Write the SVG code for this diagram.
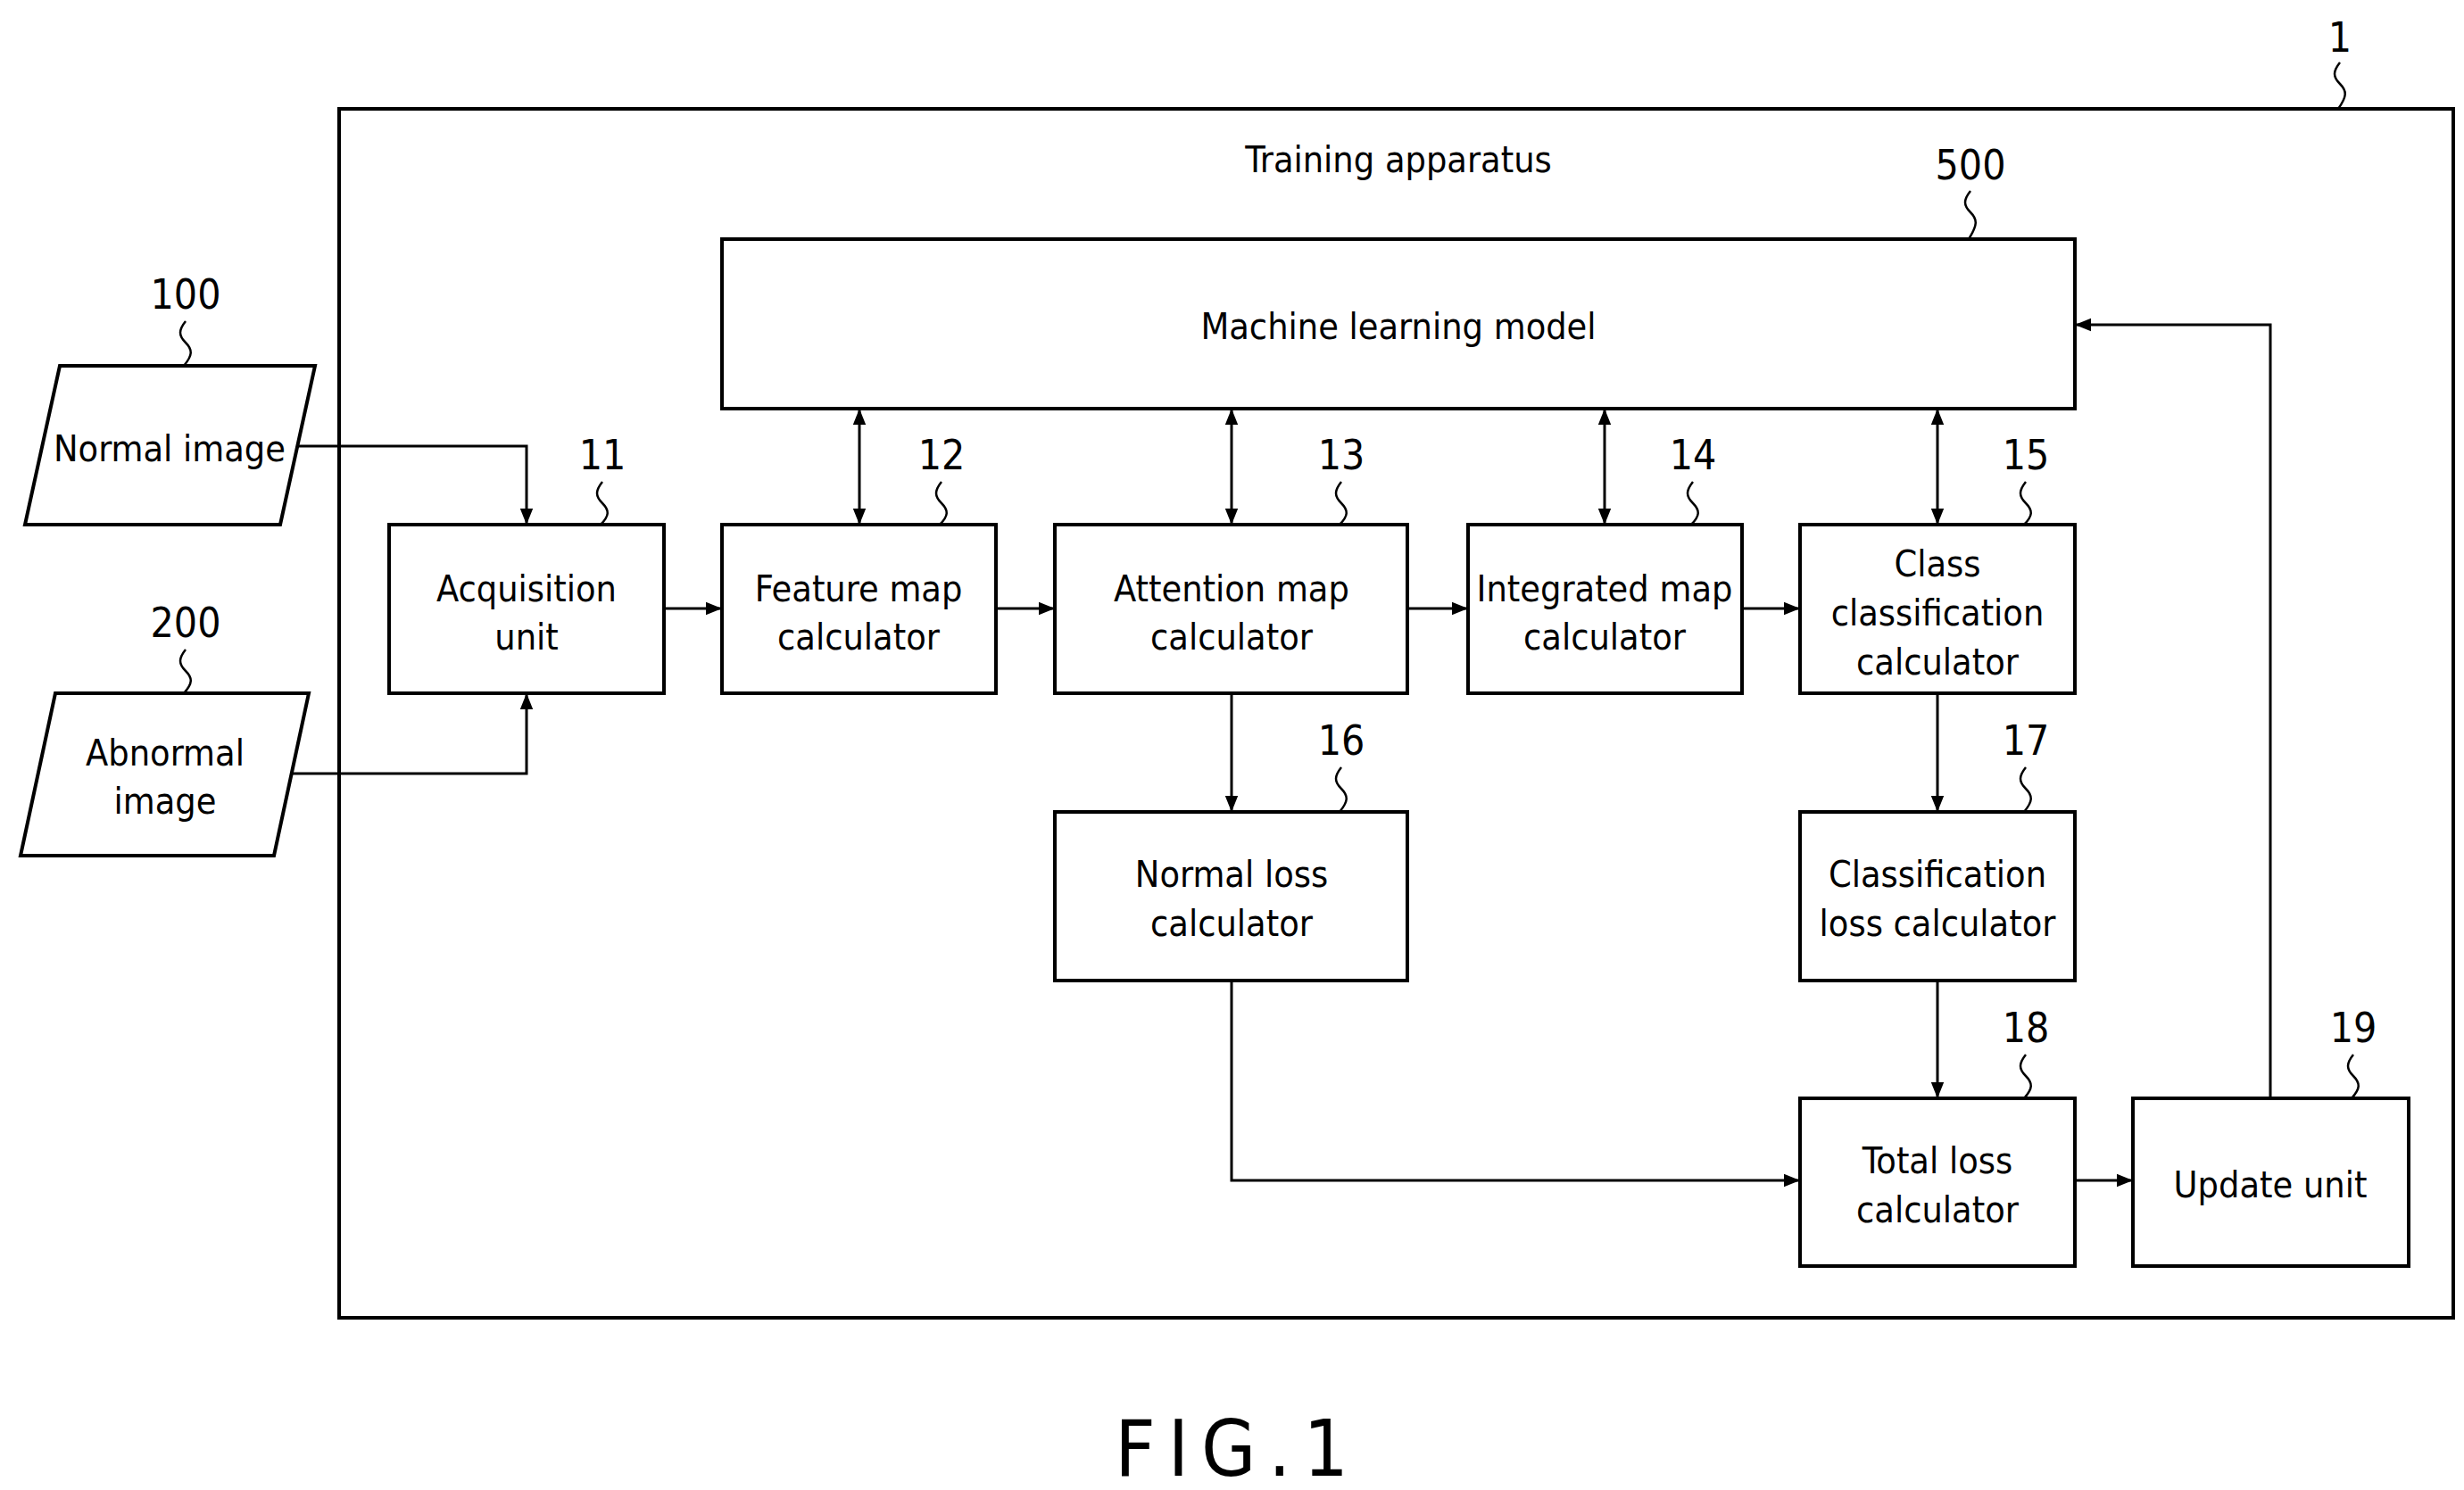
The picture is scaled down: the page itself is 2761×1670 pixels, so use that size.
<svg xmlns="http://www.w3.org/2000/svg" width="2761" height="1670" viewBox="0 0 2761 1670">
<style>
.b{fill:#fff;stroke:#000;stroke-width:4}
.t{font-family:"DejaVu Sans Condensed","Liberation Sans",sans-serif;font-size:41px;text-anchor:middle;fill:#000}
.n{font-family:"DejaVu Sans Condensed","Liberation Sans",sans-serif;font-size:46px;text-anchor:middle;fill:#000}
.c{fill:none;stroke:#000;stroke-width:3}
.s{fill:none;stroke:#000;stroke-width:2.5}
</style>
<defs>
<marker id="a" viewBox="0 0 10 10" refX="10" refY="5" markerWidth="22" markerHeight="18" markerUnits="userSpaceOnUse" orient="auto-start-reverse"><path d="M0,1L10,5L0,9z"/></marker>
</defs>
<rect x="380" y="122" width="2369" height="1355" class="b" fill="none"/>
<text x="1567" y="193" class="t">Training apparatus</text>
<text x="2622" y="58" class="n">1</text>
<path class="s" d="M2622,70c-8,10-8,16,0,24s8,14,-2,28"/>
<g id="n500"><rect x="809" y="268" width="1516" height="190" class="b"/><text x="1567" y="380" class="t">Machine learning model</text><text x="2208" y="201" class="n">500</text><path class="s" d="M2208,214c-8,10-8,16,0,24s8,14,-2,30"/></g>
<g id="n100"><path d="M67,410H353L314,588H28z" class="b"/><text x="190" y="517" class="t">Normal image</text><text x="208" y="346" class="n">100</text><path class="s" d="M208,360c-8,10-8,16,0,24s8,14,-2,26"/></g>
<g id="n200"><path d="M62,777H346L307,959H23z" class="b"/><text x="185" y="858" class="t">Abnormal</text><text x="185" y="912" class="t">image</text><text x="208" y="714" class="n">200</text><path class="s" d="M208,728c-8,10-8,16,0,24s8,14,-2,25"/></g>
<g id="n11"><rect x="436" y="588" width="308" height="189" class="b"/><text x="590" y="674" class="t">Acquisition</text><text x="590" y="728" class="t">unit</text><text x="675" y="526" class="n">11</text><path class="s" d="M675,540c-8,10-8,16,0,24s8,14,-2,24"/></g>
<g id="n12"><rect x="809" y="588" width="307" height="189" class="b"/><text x="962" y="674" class="t">Feature map</text><text x="962" y="728" class="t">calculator</text><text x="1055" y="526" class="n">12</text><path class="s" d="M1055,540c-8,10-8,16,0,24s8,14,-2,24"/></g>
<g id="n13"><rect x="1182" y="588" width="395" height="189" class="b"/><text x="1380" y="674" class="t">Attention map</text><text x="1380" y="728" class="t">calculator</text><text x="1503" y="526" class="n">13</text><path class="s" d="M1503,540c-8,10-8,16,0,24s8,14,-2,24"/></g>
<g id="n14"><rect x="1645" y="588" width="307" height="189" class="b"/><text x="1798" y="674" class="t">Integrated map</text><text x="1798" y="728" class="t">calculator</text><text x="1897" y="526" class="n">14</text><path class="s" d="M1897,540c-8,10-8,16,0,24s8,14,-2,24"/></g>
<g id="n15"><rect x="2017" y="588" width="308" height="189" class="b"/><text x="2171" y="646" class="t">Class</text><text x="2171" y="701" class="t">classification</text><text x="2171" y="756" class="t">calculator</text><text x="2270" y="526" class="n">15</text><path class="s" d="M2270,540c-8,10-8,16,0,24s8,14,-2,24"/></g>
<g id="n16"><rect x="1182" y="910" width="395" height="189" class="b"/><text x="1380" y="994" class="t">Normal loss</text><text x="1380" y="1049" class="t">calculator</text><text x="1503" y="846" class="n">16</text><path class="s" d="M1503,860c-8,10-8,16,0,24s8,14,-2,26"/></g>
<g id="n17"><rect x="2017" y="910" width="308" height="189" class="b"/><text x="2171" y="994" class="t">Classification</text><text x="2171" y="1049" class="t">loss calculator</text><text x="2270" y="846" class="n">17</text><path class="s" d="M2270,860c-8,10-8,16,0,24s8,14,-2,26"/></g>
<g id="n18"><rect x="2017" y="1231" width="308" height="188" class="b"/><text x="2171" y="1315" class="t">Total loss</text><text x="2171" y="1370" class="t">calculator</text><text x="2270" y="1168" class="n">18</text><path class="s" d="M2270,1182c-8,10-8,16,0,24s8,14,-2,25"/></g>
<g id="n19"><rect x="2390" y="1231" width="309" height="188" class="b"/><text x="2544" y="1342" class="t">Update unit</text><text x="2637" y="1168" class="n">19</text><path class="s" d="M2637,1182c-8,10-8,16,0,24s8,14,-2,25"/></g>
<g id="connectors" class="c">
<path d="M332,500H590V588" marker-end="url(#a)"/>
<path d="M328,867H590V777" marker-end="url(#a)"/>
<path d="M744,682H809" marker-end="url(#a)"/>
<path d="M1116,682H1182" marker-end="url(#a)"/>
<path d="M1577,682H1645" marker-end="url(#a)"/>
<path d="M1952,682H2017" marker-end="url(#a)"/>
<path d="M963,458V588" marker-start="url(#a)" marker-end="url(#a)"/>
<path d="M1380,458V588" marker-start="url(#a)" marker-end="url(#a)"/>
<path d="M1798,458V588" marker-start="url(#a)" marker-end="url(#a)"/>
<path d="M2171,458V588" marker-start="url(#a)" marker-end="url(#a)"/>
<path d="M1380,777V910" marker-end="url(#a)"/>
<path d="M2171,777V910" marker-end="url(#a)"/>
<path d="M2171,1099V1231" marker-end="url(#a)"/>
<path d="M1380,1099V1323H2017" marker-end="url(#a)"/>
<path d="M2325,1323H2390" marker-end="url(#a)"/>
<path d="M2544,1231V364H2325" marker-end="url(#a)"/>
</g>
<text x="1387" y="1654" font-family="DejaVu Sans Condensed,Liberation Sans,sans-serif" font-size="88" text-anchor="middle" letter-spacing="14">FIG.1</text>
</svg>
